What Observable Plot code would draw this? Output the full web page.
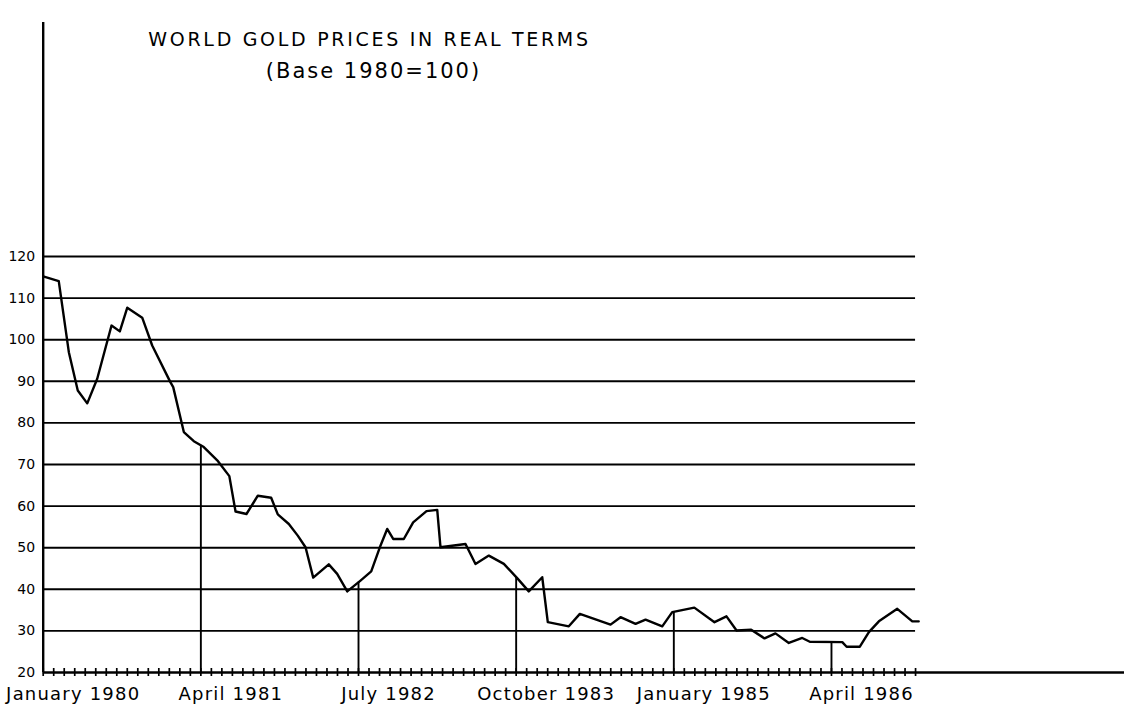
<!DOCTYPE html>
<html><head><meta charset="utf-8">
<script src="https://cdn.jsdelivr.net/npm/d3@7"></script>
<script src="https://cdn.jsdelivr.net/npm/@observablehq/plot@0.6"></script>
<style>
body{margin:0;background:#fff}
#chart svg{display:block;background:#fff}
</style>
</head><body><div id="chart"></div>
<script>
// Month index (0 = January 1980)
const monthIndex = [0, 1.48, 2.44, 3.29, 4.19, 5.14, 6.5, 7.29, 8.0, 9.42, 10.37, 12.1, 12.37, 13.38, 14.33, 15.28,
  16.63, 17.71, 18.3, 19.34, 20.42, 21.69, 22.32, 23.37, 24.22, 24.96, 25.69, 27.17, 27.97, 28.93, 30.19,
  31.21, 32.03, 32.73, 33.3, 34.31, 35.2, 36.47, 37.49, 37.8, 40.18, 41.13, 42.4, 43.83, 45.16, 46.2,
  47.48, 48.01, 50.01, 51.06, 53.98, 54.93, 56.36, 57.31, 58.9, 59.85, 61.95, 63.87, 65.01, 65.97,
  67.36, 68.63, 69.67, 70.94, 72.22, 72.94, 76.03, 76.44, 77.7, 78.56, 79.51, 81.26, 82.69, 83.3];
// Real gold price index (1980 = 100)
const priceIndex = [115.2, 114.1, 97, 87.8, 84.7, 90.6, 103.4, 102, 107.7, 105.3, 98.6, 89.8, 88.6, 77.8, 75.6, 74.2,
  70.8, 67.2, 58.7, 58.1, 62.5, 62, 58, 55.7, 52.9, 50.1, 42.8, 46, 43.7, 39.5, 42.1,
  44.3, 50.1, 54.5, 52.1, 52.1, 56.1, 58.8, 59.1, 50.1, 50.9, 46.1, 48.1, 46.1, 42.5, 39.5,
  42.9, 32.1, 31.1, 34.1, 31.5, 33.3, 31.7, 32.7, 31.1, 34.5, 35.6, 32.1, 33.5, 30.1,
  30.3, 28.2, 29.4, 27.1, 28.3, 27.4, 27.3, 26.2, 26.2, 29.7, 32.3, 35.3, 32.3, 32.3];

const yTicks = [20, 30, 40, 50, 60, 70, 80, 90, 100, 110, 120];
const gridValues = [30, 40, 50, 60, 70, 80, 90, 100, 110, 120];
const monthTicks = d3.range(0, 84);
const labelMonths = [0, 15, 30, 45, 60, 75];
const labelTexts = ["January 1980", "April 1981", "July 1982", "October 1983", "January 1985", "April 1986"];
const markerMonths = [15, 30, 45, 60, 75];
const markerValues = [74.6, 41.7, 42.9, 34.6, 27.3];
const titleText = "WORLD GOLD PRICES IN REAL TERMS";
const subtitleText = "(Base 1980=100)";

const font = "'DejaVu Sans', sans-serif";

const chart = Plot.plot({
  width: 1124,
  height: 717,
  marginLeft: 42.7,
  marginRight: 0,
  marginTop: 22,
  marginBottom: 45,
  style: {fontFamily: font, color: "black", background: "white"},
  x: {type: "linear", domain: [0, 102.88], axis: null},
  y: {type: "linear", domain: [20, 176.25], axis: null},
  marks: [
    Plot.ruleY(gridValues, {x1: 0, x2: 83, stroke: "black", strokeWidth: 1.9}),
    Plot.ruleY([20], {stroke: "black", strokeWidth: 2.3}),
    Plot.ruleX([0], {stroke: "black", strokeWidth: 2.4}),
    Plot.ruleX(monthTicks, {x: d => d, y1: 20, y2: 20, insetTop: -4, insetBottom: -4, stroke: "black", strokeWidth: 1.7}),
    Plot.ruleX(markerMonths, {x: d => d, y1: 20, y2: (d, i) => markerValues[i], stroke: "black", strokeWidth: 1.9}),
    Plot.line(monthIndex, {x: d => d, y: (d, i) => priceIndex[i], stroke: "black", strokeWidth: 2.4, strokeLinejoin: "round"}),
    Plot.axisY({ticks: yTicks, tickSize: 0, tickPadding: 8, fontSize: 14, fontFamily: font}),
    Plot.text(labelMonths, {x: d => d, y: 20, text: (d, i) => labelTexts[i], dy: 22, dx: 30, fontSize: 18, fill: "black", fontFamily: font}),
    Plot.text([titleText], {frameAnchor: "top-left", dx: 369 - 42.7, dy: 10, text: d => d, fontSize: 19, fill: "black", fontFamily: font, textAnchor: "middle"}),
    Plot.text([subtitleText], {frameAnchor: "top-left", dx: 373 - 42.7, dy: 41, text: d => d, fontSize: 21, fill: "black", fontFamily: font, textAnchor: "middle"})
  ]
});
chart.querySelectorAll("text").forEach(t => {
  if (t.textContent === titleText) t.setAttribute("letter-spacing", "2.7");
  if (t.textContent === subtitleText) t.setAttribute("letter-spacing", "2");
  if (labelTexts.includes(t.textContent)) t.setAttribute("letter-spacing", "1.2");
});
document.getElementById("chart").append(chart);
</script>
</body></html>
